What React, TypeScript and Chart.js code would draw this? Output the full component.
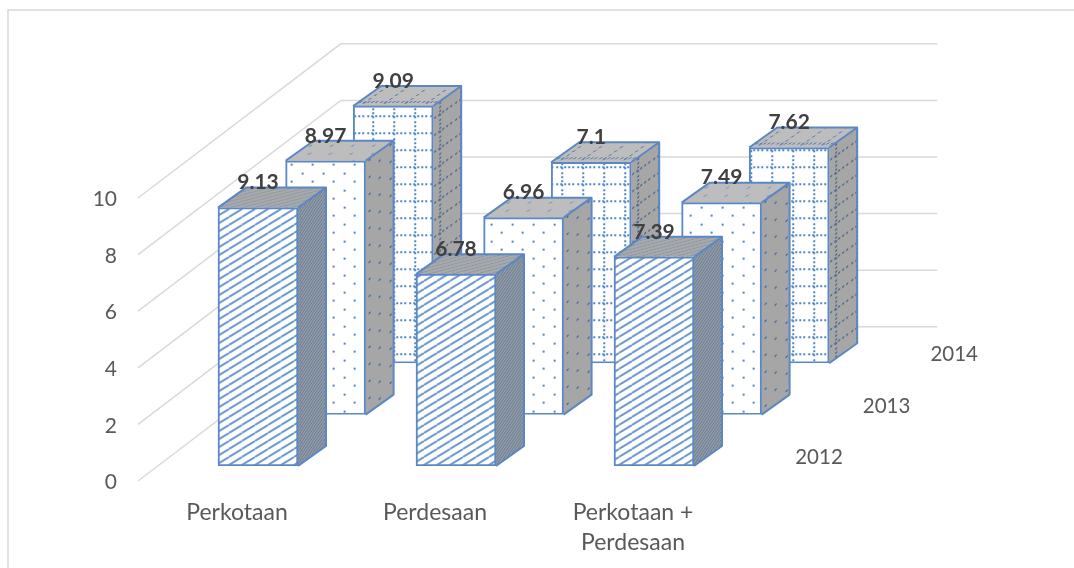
import React, { useEffect, useRef } from "react";
import { Chart, registerables } from "chart.js";

Chart.register(...registerables);

const categories = ["Perkotaan", "Perdesaan", ["Perkotaan +", "Perdesaan"]];
const years = ["2012", "2013", "2014"];
const values2012 = [9.13, 6.78, 7.39];
const values2013 = [8.97, 6.96, 7.49];
const values2014 = [9.09, 7.1, 7.62];

const FONT = "Lato, Carlito, Calibri, sans-serif";
const EDGE = "#5b88c4";
const MARK = "#4f86c6";
const HATCH = "#6f9ad2";
const GRID = "#d9d9d9";

// Oblique projection: screen shift per depth slot, and the slab a bar occupies in it.
const SLOT_X = 67.6;
const SLOT_Y = 51.4;
const LEAD_X = 21;
const LEAD_Y = 15;
const BAR_DEPTH_X = 28;
const BAR_DEPTH_Y = 20;

function tile(w: number, h: number, ground: string | null, paint: (c: CanvasRenderingContext2D) => void) {
  const cv = document.createElement("canvas");
  cv.width = w;
  cv.height = h;
  const c = cv.getContext("2d")!;
  if (ground) {
    c.fillStyle = ground;
    c.fillRect(0, 0, w, h);
  }
  paint(c);
  return c.createPattern(cv, "repeat")!;
}

// Diagonal hatch drawn corner to corner so neighbouring tiles join up.
function diagonalTile(color: string, w: number, h: number, lw: number, ground: string | null = null) {
  return tile(w, h, ground, (c) => {
    c.strokeStyle = color;
    c.lineWidth = lw;
    for (const off of [-h, 0, h]) {
      c.beginPath();
      c.moveTo(0, h + off);
      c.lineTo(w, off);
      c.stroke();
    }
  });
}

function dotTile(color: string, ground: string | null = null) {
  return tile(21, 17, ground, (c) => {
    c.fillStyle = color;
    c.fillRect(3, 1, 2, 2);
    c.fillRect(13, 9, 2, 2);
  });
}

function latticeTile(color: string, ground: string | null = null) {
  return tile(21, 17, ground, (c) => {
    c.fillStyle = color;
    for (let y = 0; y < 16; y += 4) c.fillRect(6, y + 1, 2, 2);
    for (let x = 0; x < 20; x += 4) c.fillRect(x + 1, 12, 2, 2);
  });
}

const faces = [
  {
    front: () => diagonalTile(HATCH, 13, 8, 2, "#ffffff"),
    side: () => diagonalTile("#5c7fa8", 5, 4, 1.2),
    top: () => diagonalTile("#7f93ab", 12, 5, 1),
    sideFill: "#9a9a9a",
    topFill: "#a9a9a9",
  },
  {
    front: () => dotTile(MARK, "#ffffff"),
    side: () => dotTile("#4d6f9f"),
    top: () => dotTile("#7f98b8"),
    sideFill: "#a6a6a6",
    topFill: "#bdbdbd",
  },
  {
    front: () => latticeTile(MARK, "#ffffff"),
    side: () => latticeTile("#56708f"),
    top: () => latticeTile("#6f88a8"),
    sideFill: "#a6a6a6",
    topFill: "#bdbdbd",
  },
];

const slotShift = (i: number) => ({ x: LEAD_X + SLOT_X * i, y: -(LEAD_Y + SLOT_Y * i) });

const projection = {
  id: "projection",
  beforeDatasetsDraw(chart: any) {
    const { ctx, chartArea } = chart;
    const y = chart.scales.y;
    const backX = SLOT_X * years.length;
    const backY = SLOT_Y * years.length;
    ctx.save();
    ctx.strokeStyle = GRID;
    ctx.lineWidth = 1.5;
    for (const t of y.ticks) {
      const py = y.getPixelForValue(t.value);
      ctx.beginPath();
      ctx.moveTo(chartArea.left, py);
      ctx.lineTo(chartArea.left + backX, py - backY);
      ctx.lineTo(chartArea.right + backX + 2.5, py - backY);
      ctx.stroke();
    }
    ctx.fillStyle = "#595959";
    ctx.font = `20.5px ${FONT}`;
    ctx.textAlign = "center";
    ctx.textBaseline = "middle";
    years.forEach((label, i) => {
      ctx.fillText(label, chartArea.right + 87 + SLOT_X * i, chartArea.bottom - 23.5 - SLOT_Y * i);
    });
    ctx.restore();
  },
  beforeDatasetDraw(chart: any, args: any) {
    const { ctx } = chart;
    const s = slotShift(args.index);
    const face = faces[args.index];
    ctx.save();
    ctx.translate(s.x, s.y);
    const side = face.side();
    const top = face.top();
    for (const bar of args.meta.data) {
      const { x, y, base, width } = bar.getProps(["x", "y", "base", "width"], true);
      const left = x - width / 2;
      const right = x + width / 2;
      const h = base - y;

      // Side wall, sheared so its pattern runs along the bar's depth.
      ctx.save();
      ctx.transform(1, -BAR_DEPTH_Y / BAR_DEPTH_X, 0, 1, right, y);
      ctx.fillStyle = face.sideFill;
      ctx.fillRect(0, 0, BAR_DEPTH_X, h);
      ctx.fillStyle = side;
      ctx.fillRect(0, 0, BAR_DEPTH_X, h);
      ctx.restore();

      // Cap, sheared the other way.
      ctx.save();
      ctx.transform(1, 0, -BAR_DEPTH_X / BAR_DEPTH_Y, 1, left, y);
      ctx.fillStyle = face.topFill;
      ctx.fillRect(0, -BAR_DEPTH_Y, width, BAR_DEPTH_Y);
      ctx.fillStyle = top;
      ctx.fillRect(0, -BAR_DEPTH_Y, width, BAR_DEPTH_Y);
      ctx.restore();

      ctx.strokeStyle = EDGE;
      ctx.lineWidth = 2;
      ctx.lineJoin = "round";
      ctx.beginPath();
      ctx.moveTo(left, y);
      ctx.lineTo(left + BAR_DEPTH_X, y - BAR_DEPTH_Y);
      ctx.lineTo(right + BAR_DEPTH_X, y - BAR_DEPTH_Y);
      ctx.lineTo(right + BAR_DEPTH_X, base - BAR_DEPTH_Y);
      ctx.lineTo(right, base);
      ctx.moveTo(right, y);
      ctx.lineTo(right + BAR_DEPTH_X, y - BAR_DEPTH_Y);
      ctx.stroke();
    }
  },
  afterDatasetDraw(chart: any) {
    chart.ctx.restore();
  },
  afterDatasetsDraw(chart: any) {
    const { ctx } = chart;
    ctx.save();
    ctx.fillStyle = "#404040";
    ctx.font = `bold 21px ${FONT}`;
    ctx.textAlign = "center";
    ctx.textBaseline = "middle";
    chart.data.datasets.forEach((ds: any, i: number) => {
      const s = slotShift(i);
      chart.getDatasetMeta(i).data.forEach((bar: any, j: number) => {
        ctx.fillText(String(ds.data[j]), bar.x + s.x, bar.y + s.y - 25);
      });
    });
    ctx.restore();
  },
};

const frame = {
  id: "frame",
  beforeDraw(chart: any) {
    const { ctx, width, height } = chart;
    ctx.save();
    ctx.strokeStyle = GRID;
    ctx.lineWidth = 1.5;
    ctx.beginPath();
    ctx.moveTo(8, height);
    ctx.lineTo(8, 10);
    ctx.lineTo(width, 10);
    ctx.stroke();
    ctx.restore();
  },
};

export default function App() {
  const ref = useRef<HTMLCanvasElement>(null);

  useEffect(() => {
    const seriesValues = [values2012, values2013, values2014];
    const chart = new Chart(ref.current!, {
      type: "bar",
      data: {
        labels: categories as any,
        datasets: years.map((label, i) => ({
          label,
          data: seriesValues[i],
          backgroundColor: faces[i].front(),
          borderColor: EDGE,
          borderWidth: 2,
          borderSkipped: false,
          barThickness: 80,
          grouped: false,
        })),
      },
      plugins: [frame, projection],
      options: {
        animation: false,
        responsive: false,
        layout: { padding: { top: 198, right: 342, bottom: 0, left: 0 } },
        plugins: { legend: { display: false }, tooltip: { enabled: false } },
        scales: {
          x: {
            offset: true,
            grid: { display: false, drawTicks: false },
            border: { display: false },
            ticks: {
              color: "#595959",
              padding: 17,
              maxRotation: 0,
              autoSkip: false,
              font: { family: FONT, size: 23, lineHeight: 1.3 },
            },
            afterFit: (s: any) => {
              s.height = 87;
            },
          },
          y: {
            min: 0,
            max: 10,
            grid: { display: false, drawTicks: false },
            border: { display: false },
            ticks: {
              stepSize: 2,
              color: "#595959",
              padding: 21,
              labelOffset: 1.5,
              font: { family: FONT, size: 21 },
            },
            afterFit: (s: any) => {
              s.width = 138;
            },
          },
        },
      },
    } as any);

    return () => chart.destroy();
  }, []);

  return (
    <canvas
      ref={ref}
      width={1074}
      height={568}
      style={{ position: "absolute", left: 0, top: 0, width: 1074, height: 568 }}
    />
  );
}
